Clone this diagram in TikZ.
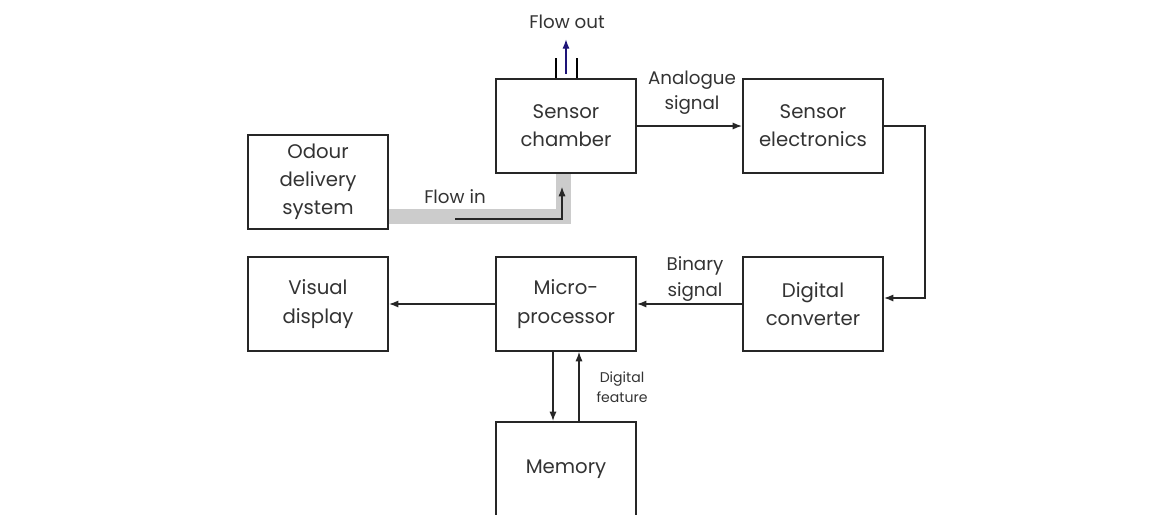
\documentclass[tikz,border=0pt]{standalone}
\usepackage{fontspec}
\setmainfont{Poppins}
\usetikzlibrary{arrows.meta,positioning}
\definecolor{flowblue}{RGB}{30,20,120}

\begin{document}
\begin{tikzpicture}[x=0.025cm,y=-0.025cm,
    box/.style={draw=black!85, line width=1.2pt, minimum width=3.5cm,
        minimum height=2.35cm, align=center, text=black!80,
        font=\fontsize{14}{20}\selectfont},
    lbl/.style={align=center, text=black!80, font=\fontsize{13}{18}\selectfont},
    arr/.style={-{Latex[length=2.4mm,width=1.8mm]}, line width=1pt, draw=black!85}]
    \useasboundingbox (0,0) rectangle (1150,514);
    % blocks
    \node[box] (chamber) at (566,126) {Sensor\\chamber};
    \node[box] (electronics) at (813,126) {Sensor\\electronics};
    \node[box] (odour) at (318,182) {Odour\\delivery\\system};
    \node[box] (display) at (318,304) {Visual\\display};
    \node[box] (micro) at (566,304) {Micro-\\processor};
    \node[box] (converter) at (813,304) {Digital\\converter};
    \node[box] (memory) at (566,469) {Memory};
    % labels
    \node[lbl] (flowout) at (567,22) {Flow out};
    \node[lbl] (flowin) at (455,197) {Flow in};
    \node[lbl] (analogue) at (692,93) {Analogue\\signal};
    \node[lbl] (binary) at (695,279) {Binary\\signal};
    \node[lbl, font=\fontsize{10}{14}\selectfont] (feature) at (622,387) {Digital\\feature};
    % gas flow
    \coordinate (bend) at (563,216);
    \coordinate (inbend) at (562,219);
    \draw[line width=0.375cm, gray!40, line join=miter]
        (odour.east |- bend) -- (bend) -- (bend |- chamber.south);
    \draw[arr, shorten >=0.32cm]
        (flowin.south |- inbend) -- (inbend) -- (inbend |- chamber.south);
    \draw[line width=1.2pt] ([xshift=-0.25cm]chamber.north) -- ++(0,-20);
    \draw[line width=1.2pt] ([xshift=0.275cm]chamber.north) -- ++(0,-20);
    \draw[arr, draw=flowblue, fill=flowblue]
        ([yshift=0.1cm]chamber.north) -- ++(0,-35);
    % signal path
    \draw[arr] (chamber.east) -- (electronics.west);
    \draw[arr] (electronics.east) -- ++(41,0)
        |- ([yshift=0.15cm]converter.east);
    \draw[arr] (converter.west) -- (micro.east);
    \draw[arr] (micro.west) -- (display.east);
    \draw[arr] ([xshift=-0.325cm]micro.south) -- ([xshift=-0.325cm]memory.north);
    \draw[arr, line width=0.8pt] ([xshift=0.325cm]memory.north)
        -- ([xshift=0.325cm]micro.south);
\end{tikzpicture}
\end{document}
